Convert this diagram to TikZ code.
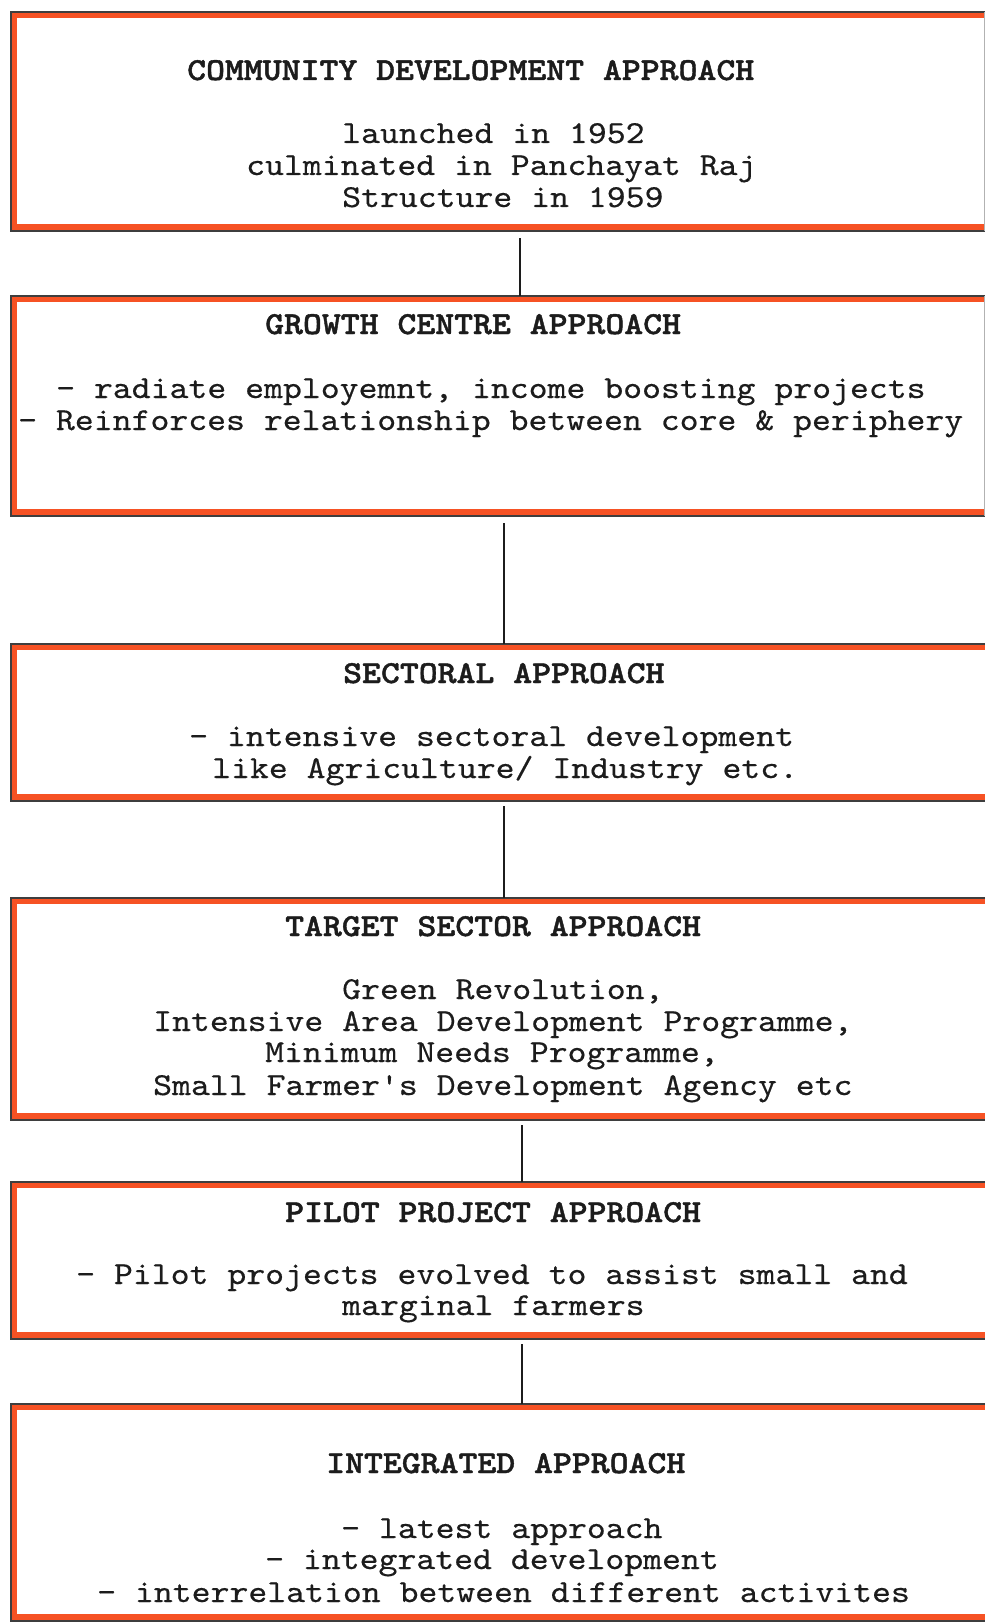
\documentclass[tikz,border=0pt]{standalone}
\usepackage{fontspec}
\newfontfamily\typew{lmmono10-regular.otf}[FakeStretch=1.125, FakeBold=0.4, BoldFont=lmmonolt10-bold.otf, BoldFeatures={FakeBold=1.3}]
\definecolor{orng}{RGB}{246,82,36}
\definecolor{ink}{RGB}{28,28,28}
\tikzset{
  box/.style={rectangle, inner sep=0pt, outer sep=0pt, anchor=north west, minimum width=974pt},
  txt/.style={anchor=base west, inner sep=0pt, font=\typew\fontsize{32}{32}\selectfont, text=ink},
  head/.style={txt, font=\typew\bfseries\fontsize{32}{32}\selectfont},
  link/.style={draw=ink, line width=1.8pt},
  edgeline/.style={draw=ink!85, line width=1.3pt},
  faintedge/.style={draw=gray!60, line width=0.9pt},
}
\begin{document}
\begin{tikzpicture}[x=1pt,y=-1pt]
\fill[white] (0,0) rectangle (987,1624);
\useasboundingbox (0,0) rectangle (987,1624);

% boxes
\node[box, minimum height=219pt] (b1) at (11,12) {};
\node[box, minimum height=220pt] (b2) at (11,296) {};
\node[box, minimum height=157pt] (b3) at (11,644) {};
\node[box, minimum height=222pt] (b4) at (11,898) {};
\node[box, minimum height=157pt] (b5) at (11,1182) {};
\node[box, minimum height=217pt] (b6) at (11,1404) {};

\foreach \b in {b1,b2,b3,b4,b5,b6}{
  \fill[orng] (\b.north west) rectangle ([yshift=-6pt]\b.north east);
  \fill[orng] (\b.north west) rectangle ([xshift=6pt]\b.south west);
  \fill[orng] ([yshift=7pt]\b.south west) rectangle (\b.south east);
  \draw[edgeline] (\b.north east) -- (\b.north west) -- (\b.south west) -- (\b.south east);
}
\draw[faintedge] ([xshift=-1pt]b1.north east) -- ([xshift=-1pt]b1.south east);
\draw[faintedge] ([xshift=-1pt]b2.north east) -- ([xshift=-1pt]b2.south east);

% connectors
\draw[link] ([xshift=22pt,yshift=-7pt]b1.south) -- ([xshift=22pt]b2.north);
\draw[link] ([xshift=6pt,yshift=-7pt]b2.south) -- ([xshift=6pt]b3.north);
\draw[link] ([xshift=6pt,yshift=-5pt]b3.south) -- ([xshift=6pt]b4.north);
\draw[link] ([xshift=24pt,yshift=-5pt]b4.south) -- ([xshift=24pt]b5.north);
\draw[link] ([xshift=24pt,yshift=-5pt]b5.south) -- ([xshift=24pt]b6.north);

% box 1
\node[head] (t1h) at (187,80) {COMMUNITY DEVELOPMENT APPROACH};
\node[txt] (t1a) at (342,143) {launched in 1952};
\node[txt] (t1b) at (246,175) {culminated in Panchayat Raj};
\node[txt] (t1c) at (342,207) {Structure in 1959};

% box 2
\node[head] (t2h) at (265,334) {GROWTH CENTRE APPROACH};
\node[txt] (t2a) at (56,398) {- radiate employemnt, income boosting projects};
\node[txt] (t2b) at (18,430) {- Reinforces relationship between core \& periphery};

% box 3
\node[head] (t3h) at (343,683) {SECTORAL APPROACH};
\node[txt] (t3a) at (189,746) {- intensive sectoral development};
\node[txt] (t3b) at (212,778) {like Agriculture/ Industry etc.};

% box 4
\node[head] (t4h) at (285,936) {TARGET SECTOR APPROACH};
\node[txt] (t4a) at (342,999) {Green Revolution,};
\node[txt] (t4b) at (153,1031) {Intensive Area Development Programme,};
\node[txt] (t4c) at (265,1062) {Minimum Needs Programme,};
\node[txt] (t4d) at (153,1095) {Small Farmer's Development Agency etc};

% box 5
\node[head] (t5h) at (285,1222) {PILOT PROJECT APPROACH};
\node[txt] (t5a) at (76,1284) {- Pilot projects evolved to assist small and};
\node[txt] (t5b) at (342,1315) {marginal farmers};

% box 6
\node[head] (t6h) at (326,1473) {INTEGRATED APPROACH};
\node[txt] (t6a) at (341,1538) {- latest approach};
\node[txt] (t6b) at (265,1569) {- integrated development};
\node[txt] (t6c) at (97,1602) {- interrelation between different activites};
\end{tikzpicture}
\end{document}
